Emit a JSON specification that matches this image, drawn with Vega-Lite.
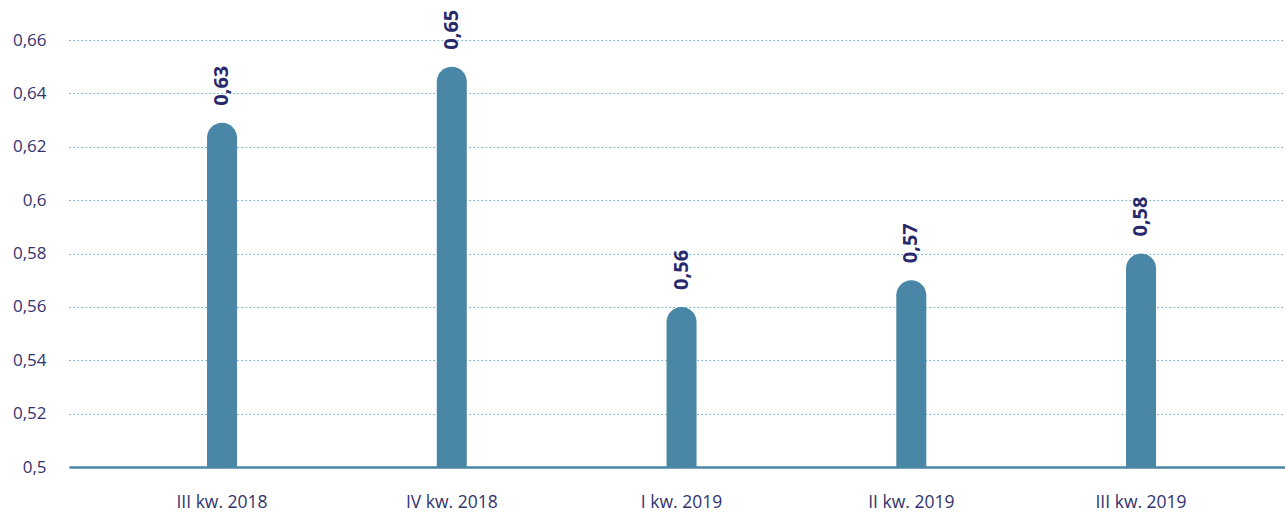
{
  "$schema": "https://vega.github.io/schema/vega-lite/v6.json",
  "autosize": {"type": "none"},
  "width": 1216,
  "height": 467,
  "padding": {"left": 69, "top": 0, "right": 0, "bottom": 46},
  "background": "white",
  "config": {
    "view": {"stroke": null},
    "font": "Open Sans",
    "locale": {"number": {"decimal": ",", "thousands": " ", "grouping": [3], "currency": ["", " zł"]}}
  },
  "data": {
    "values": [
      {"kwartal": "III kw. 2018", "wartosc": 0.629, "baza": 0.5},
      {"kwartal": "IV kw. 2018", "wartosc": 0.65, "baza": 0.5},
      {"kwartal": "I kw. 2019", "wartosc": 0.56, "baza": 0.5},
      {"kwartal": "II kw. 2019", "wartosc": 0.57, "baza": 0.5},
      {"kwartal": "III kw. 2019", "wartosc": 0.58, "baza": 0.5}
    ]
  },
  "encoding": {
    "x": {
      "field": "kwartal",
      "type": "nominal",
      "sort": null,
      "scale": {"paddingInner": 0.8694, "paddingOuter": 0.581, "align": 0.517},
      "axis": {
        "title": null,
        "labelAngle": 0,
        "ticks": false,
        "domain": true,
        "domainColor": "#4a86a6",
        "domainWidth": 2.5,
        "labelFont": "Open Sans",
        "labelFontSize": 17.5,
        "labelColor": "#33336f",
        "labelPadding": 26
      }
    },
    "y": {
      "field": "wartosc",
      "type": "quantitative",
      "scale": {"domain": [0.5, 0.675], "zero": false, "nice": false},
      "axis": {
        "title": null,
        "values": [0.5, 0.52, 0.54, 0.56, 0.58, 0.6, 0.62, 0.64, 0.66],
        "format": "~g",
        "ticks": false,
        "domain": false,
        "grid": true,
        "gridColor": "#6fa6c6",
        "gridDash": [1.5, 2.5],
        "gridWidth": 1,
        "labelFont": "Open Sans",
        "labelFontSize": 17,
        "labelColor": "#33336f",
        "labelPadding": 23
      }
    }
  },
  "layer": [
    {
      "mark": {"type": "bar", "color": "#4a87a7", "cornerRadiusTopLeft": 15, "cornerRadiusTopRight": 15},
      "encoding": {
        "y2": {"field": "baza"}
      }
    },
    {
      "mark": {"type": "text", "angle": 270, "align": "left", "baseline": "middle", "dx": 17, "font": "Open Sans", "fontWeight": "bold", "fontSize": 20, "color": "#27296c"},
      "encoding": {
        "text": {"field": "wartosc", "type": "quantitative", "format": ".2f"}
      }
    }
  ]
}
